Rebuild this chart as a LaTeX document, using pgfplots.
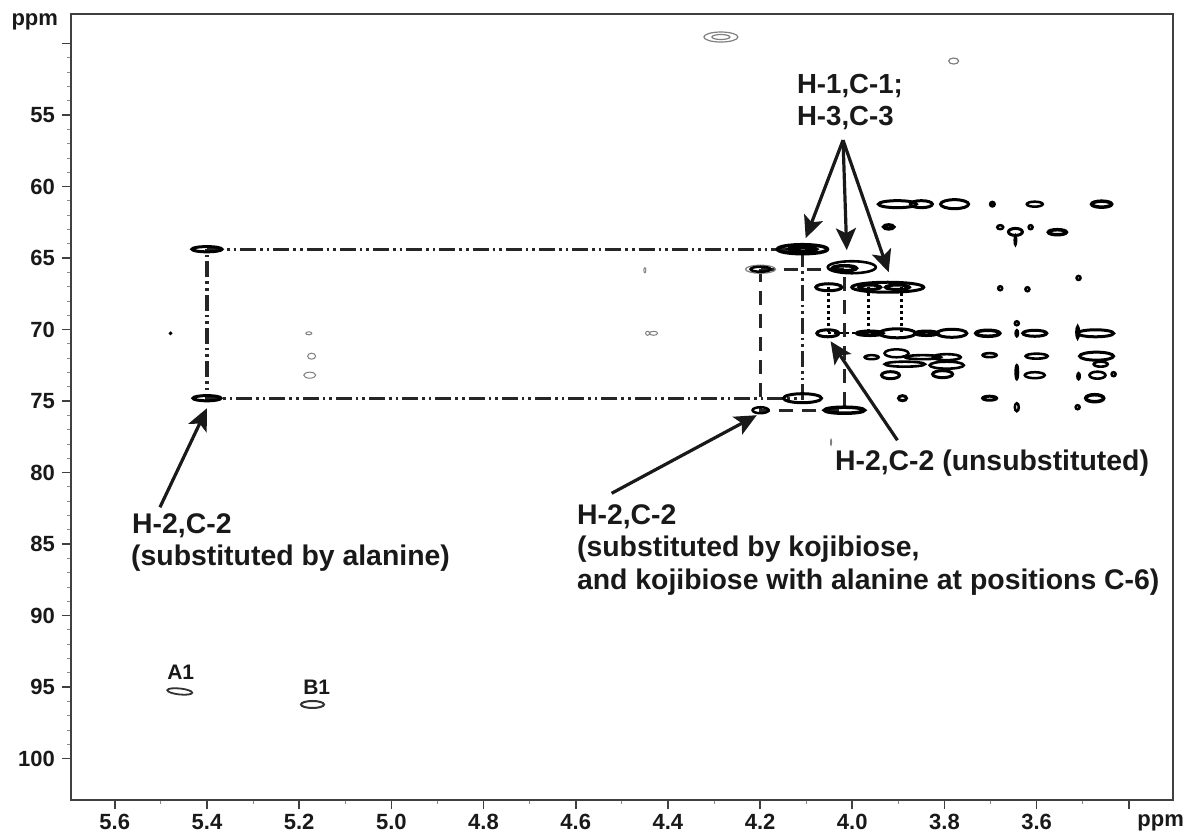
\documentclass[border=0pt]{standalone}
\usepackage{pgfplots}
\usepackage{pgfplotstable}
\usepackage{fontspec}
\setmainfont{Liberation Sans}
\pgfplotsset{compat=1.18}
\usetikzlibrary{arrows.meta}
\pgfdeclareplotmark{ell}{\pgfsetlinewidth{0.5*\lw pt}\pgfpathellipse{\pgfpointorigin}{\pgfpoint{0.5*\rx pt}{0pt}}{\pgfpoint{0pt}{0.5*\ry pt}}\pgfusepathqstroke}
\pgfplotsset{peaks/.style={scatter, only marks, mark=ell, forget plot,
  visualization depends on=\thisrow{rx}\as\rx,
  visualization depends on=\thisrow{ry}\as\ry,
  visualization depends on=\thisrow{lw}\as\lw,
  scatter/use mapped color={draw=#1}}}
\pgfplotstableread{
x y rx ry lw
4.108 64.38 25 4.5 3.5
4.108 64.38 14 2 3.5
4.001 65.64 24 6 2.6
4.017 65.71 12 2.5 3.5
4.199 65.78 10 2.5 2.5
4.051 67.04 13 3.5 3
3.923 67.04 36 5 3
3.962 67.04 11 2.2 3
3.902 67.04 12 2.2 3
3.902 61.23 19 3.5 3
3.850 61.23 11 3.5 3
3.778 61.23 14 4.5 3
3.696 61.23 2 2 3
3.604 61.23 8 2.5 2.5
3.459 61.23 10 3 3.5
3.921 62.82 5 2 3.5
3.679 62.84 3 2 2.5
3.646 63.17 7 3.5 3
3.613 62.84 2 2 2.5
3.555 63.19 9 2.5 3.5
3.646 63.75 1 5 2
3.509 66.39 2 2 2.5
3.679 67.11 2 2 2.5
3.620 67.18 2 2 2.5
4.053 70.26 11 3.5 3
3.962 70.26 13 2 3.5
3.902 70.26 18 4.5 3
3.839 70.26 11 2 3.5
3.784 70.26 15 4 3
3.706 70.26 12 3 3.5
3.643 69.56 2 2 2.5
3.643 70.26 1.2 3 2.5
3.604 70.26 12 3 3
3.472 70.26 18 3.5 3
3.511 70.19 1.2 6 2.5
3.958 71.93 7 2 2.5
3.904 71.66 12 4 2.5
3.847 71.93 18 2 2.6
3.795 71.93 14 3 2.6
3.702 71.79 7 2 2.6
3.600 71.86 11 2.5 2.6
3.470 71.86 17 4 3
3.886 72.42 20 2.5 2.6
3.795 72.49 17 3.5 2.6
3.461 72.42 7 2.5 2.6
3.917 73.19 9 3.5 3
3.804 73.12 10 3.5 3
3.604 73.19 10 3 2.5
3.643 72.98 1.2 7 2.5
3.509 73.26 1.2 3 2.5
3.468 73.19 8 3.5 2.6
3.433 73.12 2 2 2.5
3.891 74.80 4 2.5 3
3.702 74.80 7 2 3
3.474 74.80 9 3.5 3.5
4.108 74.80 19 4.5 3
4.199 75.64 8 3 2.5
4.017 75.64 20 3 3.5
3.643 75.43 2 4 2.5
3.511 75.43 2 2 2.5
5.400 64.38 15 2.6 3
5.400 74.80 14 2.6 3
5.479 70.26 1 1 1.5
}\peaksblack
\pgfplotstableread{
x y rx ry lw
4.285 49.54 17 5 1.2
4.285 49.54 9 2.5 1.2
3.780 51.22 5 3 1.2
5.179 70.26 3 1.5 1
5.173 71.86 4 3 1
5.177 73.19 6 3 1
4.450 65.85 1 2.5 1
4.444 70.26 2 2 1
4.431 70.26 4 2 1
4.199 65.78 15 4 1.2
4.046 77.88 .5 3 1
}\peaksgray
\pgfplotstableread{
x y rx ry lw
5.171 96.22 11.5 3.5 2
}\peakB
\newcommand\lab[4][14.2pt]{\node[anchor=west,inner sep=0pt,font=\fontsize{#1}{16pt}\bfseries,text=black!90] at (axis cs:{5.8495-#2/461},{46.952+#3/14.29}) {#4};}
\begin{document}
\begin{tikzpicture}
\path[use as bounding box] (0,0) rectangle (593pt,416.5pt);
\begin{axis}[
  at={(35.5pt,16.5pt)}, anchor=south west, scale only axis,
  width=550.8pt, height=393pt,
  x dir=reverse, y dir=reverse,
  xmin=3.305, xmax=5.695, ymin=47.93, ymax=102.9,
  axis line style={black!75, line width=1pt},
  xtick={5.6,5.4,5.2,5.0,4.8,4.6,4.4,4.2,4.0,3.8,3.6,3.4},
  xticklabels={5.6,5.4,5.2,5.0,4.8,4.6,4.4,4.2,4.0,3.8,3.6,},
  ytick={50,55,60,65,70,75,80,85,90,95,100},
  yticklabels={,55,60,65,70,75,80,85,90,95,100},
  minor x tick num=1, minor y tick num=4,
  tick align=outside, xtick pos=bottom, ytick pos=left,
  major tick length=4.5pt, minor tick length=2pt,
  tick style={black!75, line width=.8pt},
  minor tick style={black!45, line width=.4pt},
  ticklabel style={font=\fontsize{11pt}{12pt}\bfseries, text=black!90},
  xticklabel style={yshift=1pt},
  clip=false,
]
% dash-dot-dot rectangle
\addplot[black!85, line width=1.6pt, dash pattern=on 8pt off 2pt on 1.3pt off 2pt on 1.3pt off 2pt]
  coordinates {(5.400,64.38) (4.108,64.38) (4.108,74.80) (5.400,74.80) (5.400,64.38)};
% dashed rectangle
\addplot[black!85, line width=1.5pt, dash pattern=on 7pt off 4.5pt]
  coordinates {(4.199,65.78) (4.017,65.78) (4.017,75.64) (4.199,75.64) (4.199,65.78)};
% dotted connectors
\addplot[black, line width=1.5pt, dash pattern=on 1.5pt off 1.5pt] coordinates {(4.051,67.04) (4.051,70.26)};
\addplot[black, line width=1.5pt, dash pattern=on 1.5pt off 1.5pt] coordinates {(3.964,67.04) (3.964,70.26)};
\addplot[black, line width=1.5pt, dash pattern=on 1.5pt off 1.5pt] coordinates {(3.893,67.04) (3.893,70.26)};
\addplot[black, line width=1.2pt, dash pattern=on 1.5pt off 1.5pt] coordinates {(4.053,70.26) (3.962,70.26)};
% peaks
\addplot[peaks=black!50] table {\peaksgray};
\addplot[peaks=black] table {\peaksblack};
\addplot[peaks=black!80] table {\peakB};
\def\rx{12.5}\def\ry{3}\def\lw{1.8}
\addplot[only marks, mark=ell, forget plot, mark options={rotate=-6, draw=black!80}] coordinates {(5.459,95.31)};
% arrows
\tikzset{ann/.style={black!90, line width=1.6pt, -{Stealth[length=11pt,width=10pt,inset=2.5pt]}}}
\addplot[ann] coordinates {(4.0200,56.75) (4.101,63.61)};
\addplot[ann] coordinates {(4.0200,56.75) (4.012,64.45)};
\addplot[ann] coordinates {(4.0200,56.75) (3.921,65.99)};
\addplot[ann] coordinates {(5.502,82.43) (5.400,75.50)};
\addplot[ann] coordinates {(4.522,81.45) (4.207,75.99)};
\addplot[ann] coordinates {(3.902,77.74) (4.047,70.82)};
% labels
\lab[13.8pt]{797}{86}{H-1,C-1;}
\lab[13.8pt]{797}{118}{H-3,C-3}
\lab{132}{525}{H-2,C-2}
\lab{131}{558}{(substituted by alanine)}
\lab{577}{516}{H-2,C-2}
\lab{577}{549}{(substituted by kojibiose,}
\lab{577}{582}{and kojibiose with alanine at positions C-6)}
\lab{835}{463}{H-2,C-2 (unsubstituted)}
\node[font=\fontsize{10.5pt}{12pt}\bfseries,text=black!90] at (axis cs:{5.8495-181/461},{46.952+672/14.29}) {A1};
\node[font=\fontsize{10.5pt}{12pt}\bfseries,text=black!90] at (axis cs:{5.8495-317/461},{46.952+687/14.29}) {B1};
\node[font=\fontsize{11pt}{12pt}\bfseries,text=black!90] at (axis cs:{5.8495-35/461},{46.952+22/14.29}) {ppm};
\node[font=\fontsize{11pt}{12pt}\bfseries,text=black!90] at (axis cs:{5.8495-1161/461},{46.952+822/14.29}) {ppm};
\end{axis}
\end{tikzpicture}
\end{document}
